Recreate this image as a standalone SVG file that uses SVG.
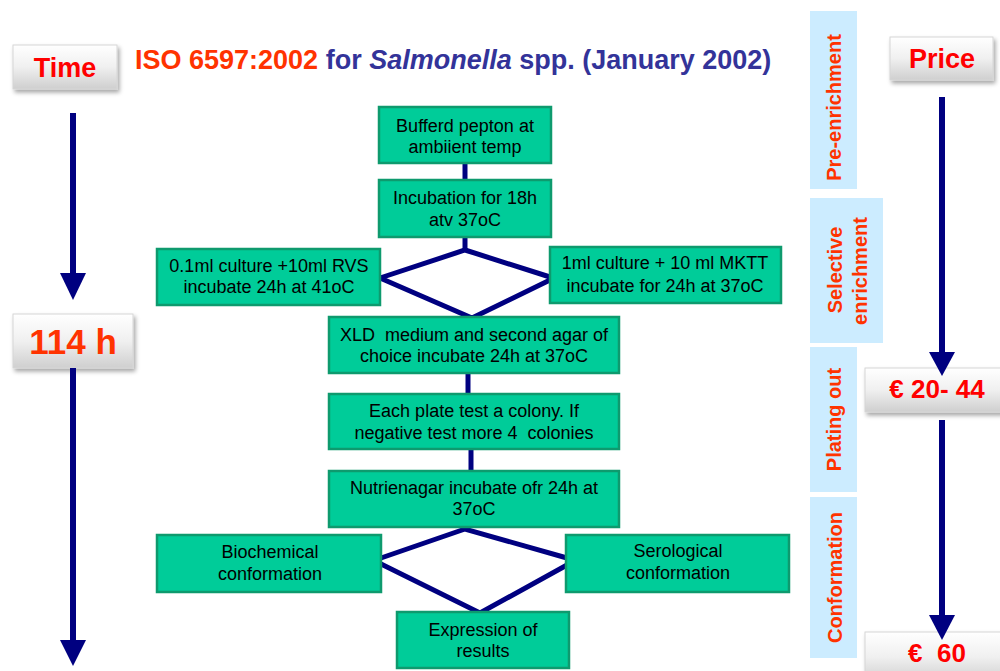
<svg xmlns="http://www.w3.org/2000/svg" width="1000" height="671" viewBox="0 0 1000 671">
<defs>
<linearGradient id="gb" x1="0" y1="0" x2="0" y2="1">
<stop offset="0" stop-color="#ffffff"/>
<stop offset="0.5" stop-color="#f0f0f0"/>
<stop offset="1" stop-color="#cfcfcf"/>
</linearGradient>
<filter id="sh" x="-10%" y="-10%" width="130%" height="140%">
<feDropShadow dx="2" dy="3" stdDeviation="2" flood-color="#000" flood-opacity="0.35"/>
</filter>
<style>
.bx{fill:#00CC99;stroke:#0E9A6E;stroke-width:2.5}
.nt{font-family:"Liberation Sans",Arial,sans-serif;font-size:18px;fill:#000;text-anchor:middle}
.gl{fill:url(#gb);stroke:#d6d6d6;stroke-width:1;filter:url(#sh)}
.lt{font-family:"Liberation Sans",Arial,sans-serif;font-weight:bold;text-anchor:middle}
.side{fill:#CCECFF}
.st{font-family:"Liberation Sans",Arial,sans-serif;font-weight:bold;font-size:20px;fill:#FF3300;text-anchor:middle}
.cn{fill:none;stroke:#000080;stroke-width:5;stroke-linejoin:miter}
.ar{fill:none;stroke:#000080;stroke-width:6}
.hd{fill:#000080}
</style>
</defs>
<rect width="1000" height="671" fill="#fff"/>

<!-- Title -->
<text x="135" y="69" font-family="'Liberation Sans',Arial,sans-serif" font-weight="bold" font-size="27" fill="#333399"><tspan fill="#FF3300">ISO 6597:2002</tspan> for <tspan font-style="italic">Salmonella</tspan> spp. (January 2002)</text>

<!-- Side phase labels -->
<g id="pre-enrichment">
<rect class="side" x="810" y="11" width="47" height="178"/>
<text class="st" transform="translate(841,107.5) rotate(-90)">Pre-enrichment</text>
</g>
<g id="selective-enrichment">
<rect class="side" x="810" y="198" width="73" height="145"/>
<text class="st" transform="translate(842,270) rotate(-90)">Selective</text>
<text class="st" transform="translate(867,271) rotate(-90)">enrichment</text>
</g>
<g id="plating-out">
<rect class="side" x="810" y="347" width="47" height="145"/>
<text class="st" transform="translate(841,419.5) rotate(-90)">Plating out</text>
</g>
<g id="conformation">
<rect class="side" x="810" y="497" width="47" height="161"/>
<text class="st" transform="translate(842,577.5) rotate(-90)">Conformation</text>
</g>

<!-- Time column -->
<g id="time">
<rect class="gl" x="13" y="45" width="104" height="44"/>
<text class="lt" x="65" y="77" font-size="27" fill="#FF0000">Time</text>
</g>
<g id="hours">
<rect class="gl" x="13" y="314" width="120" height="54"/>
<text class="lt" x="73" y="354" font-size="35" fill="#FF3300">114 h</text>
</g>

<!-- Price column -->
<g id="price">
<rect class="gl" x="890" y="37" width="103" height="43"/>
<text class="lt" x="942" y="68" font-size="27" fill="#FF0000">Price</text>
</g>
<g id="price1">
<rect class="gl" x="865" y="368" width="140" height="44"/>
<text class="lt" x="937" y="398" font-size="26" fill="#FF0000">€ 20- 44</text>
</g>
<g id="price2">
<rect class="gl" x="865" y="632" width="140" height="50"/>
<text class="lt" x="937" y="662" font-size="26" fill="#FF0000" xml:space="preserve">€  60</text>
</g>

<!-- Arrows (time/price) -->
<g id="arrows">
<line class="ar" x1="73" y1="113" x2="73" y2="275"/>
<polygon class="hd" points="60,273 86,273 73,300"/>
<line class="ar" x1="73" y1="368" x2="73" y2="642"/>
<polygon class="hd" points="60,640 86,640 73,666"/>
<line class="ar" x1="942" y1="97" x2="942" y2="354"/>
<polygon class="hd" points="929,352 955,352 942,376"/>
<line class="ar" x1="942" y1="420" x2="942" y2="617"/>
<polygon class="hd" points="929,615 955,615 942,640"/>
</g>

<!-- Connectors -->
<g id="connectors">
<line class="cn" x1="465" y1="163" x2="465" y2="180"/>
<polyline class="cn" points="465,237 465,250"/>
<polyline class="cn" points="380,278 465,250 550,277"/>
<polyline class="cn" points="380,278 472,318 550,280"/>
<line class="cn" x1="468" y1="373" x2="468" y2="394"/>
<line class="cn" x1="471" y1="449" x2="471" y2="471"/>
<polyline class="cn" points="381,558 465,529 567,558"/>
<polyline class="cn" points="381,564 480,613 567,565"/>
</g>

<!-- Flow nodes -->
<g id="n-bufferd">
<rect class="bx" x="379" y="107" width="172" height="56"/>
<text class="nt" x="465" y="132">Bufferd pepton at<tspan x="465" y="153">ambiient temp</tspan></text>
</g>
<g id="n-incubation">
<rect class="bx" x="379" y="180" width="172" height="57"/>
<text class="nt" x="465" y="204">Incubation for 18h<tspan x="465" y="226">atv 37oC</tspan></text>
</g>
<g id="n-rvs">
<rect class="bx" x="157" y="249" width="223" height="56"/>
<text class="nt" x="269" y="272">0.1ml culture +10ml RVS<tspan x="269" y="293">incubate 24h at 41oC</tspan></text>
</g>
<g id="n-mktt">
<rect class="bx" x="550" y="247" width="231" height="56"/>
<text class="nt" x="665" y="269">1ml culture + 10 ml MKTT<tspan x="665" y="292">incubate for 24h at 37oC</tspan></text>
</g>
<g id="n-xld">
<rect class="bx" x="329" y="317" width="290" height="56"/>
<text class="nt" x="474" y="341" xml:space="preserve">XLD  medium and second agar of<tspan x="474" y="362">choice incubate 24h at 37oC</tspan></text>
</g>
<g id="n-plate">
<rect class="bx" x="329" y="394" width="290" height="55"/>
<text class="nt" x="474" y="417" xml:space="preserve">Each plate test a colony. If<tspan x="474" y="439">negative test more 4  colonies</tspan></text>
</g>
<g id="n-nutrient">
<rect class="bx" x="329" y="471" width="290" height="56"/>
<text class="nt" x="474" y="494">Nutrienagar incubate ofr 24h at<tspan x="474" y="515">37oC</tspan></text>
</g>
<g id="n-biochem">
<rect class="bx" x="157" y="535" width="224" height="57"/>
<text class="nt" x="270" y="558">Biochemical<tspan x="270" y="580">conformation</tspan></text>
</g>
<g id="n-serol">
<rect class="bx" x="566" y="535" width="223" height="57"/>
<text class="nt" x="678" y="557">Serological<tspan x="678" y="579">conformation</tspan></text>
</g>
<g id="n-expression">
<rect class="bx" x="397" y="612" width="172" height="56"/>
<text class="nt" x="483" y="636">Expression of<tspan x="483" y="657">results</tspan></text>
</g>
</svg>
